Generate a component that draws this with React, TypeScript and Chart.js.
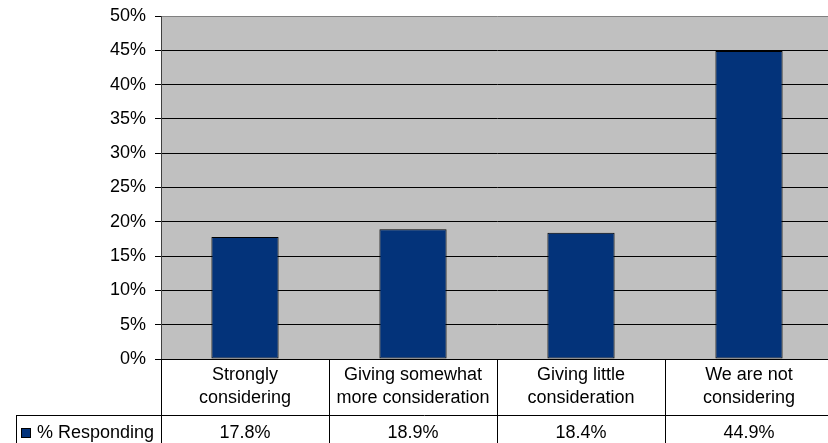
import React, { useEffect, useRef } from "react";
import { Chart, registerables } from "chart.js";

Chart.register(...registerables);

// Survey categories, split into the two lines shown in the data table
const categoryLines: string[][] = [
  ["Strongly", "considering"],
  ["Giving somewhat", "more consideration"],
  ["Giving little", "consideration"],
  ["We are not", "considering"],
];
const seriesName = "% Responding";
const responding: number[] = [17.8, 18.9, 18.4, 44.9];
const yTicks: number[] = [0, 5, 10, 15, 20, 25, 30, 35, 40, 45, 50];

const FONT = '"Liberation Sans", Arial, sans-serif';
const FONT_SIZE = 18;
const BAR_COLOR = "#03337A";
const PLOT_BG = "#C0C0C0";

// Plot background and the data table under the axis
const tablePlugin = {
  id: "dataTable",
  beforeDraw(chart: any) {
    const { ctx, chartArea } = chart;
    ctx.save();
    ctx.fillStyle = PLOT_BG;
    ctx.fillRect(chartArea.left, chartArea.top, chartArea.right - chartArea.left, chartArea.bottom - chartArea.top);
    ctx.restore();
  },
  afterDraw(chart: any) {
    const { ctx, chartArea } = chart;
    const x = chart.scales.x;
    const n = categoryLines.length;
    const colW = (chartArea.right - chartArea.left) / n;
    const top = Math.round(chartArea.bottom);
    const rowH = 56;
    const row2 = top + rowH;
    const row2H = 36;
    const legendLeft = 16;

    ctx.save();
    ctx.strokeStyle = "#000";
    ctx.lineWidth = 1;
    ctx.beginPath();
    // column separators through both rows
    for (let i = 0; i <= n; i++) {
      const cx = Math.round(chartArea.left + colW * i) + 0.5;
      ctx.moveTo(cx, top);
      ctx.lineTo(cx, row2 + row2H);
    }
    // legend cell edge
    ctx.moveTo(legendLeft + 0.5, row2);
    ctx.lineTo(legendLeft + 0.5, row2 + row2H);
    // row separator
    ctx.moveTo(legendLeft, row2 + 0.5);
    ctx.lineTo(chartArea.right, row2 + 0.5);
    ctx.stroke();

    ctx.fillStyle = "#000";
    ctx.font = `${FONT_SIZE}px ${FONT}`;
    ctx.textAlign = "center";
    ctx.textBaseline = "middle";
    const lineGap = 23;
    categoryLines.forEach((lines, i) => {
      const cx = x.getPixelForValue(i);
      const cy = top + rowH / 2;
      lines.forEach((t, j) => {
        ctx.fillText(t, cx, cy + (j - (lines.length - 1) / 2) * lineGap);
      });
      ctx.fillText(`${responding[i].toFixed(1)}%`, cx, row2 + 18);
    });

    // legend key
    ctx.fillStyle = BAR_COLOR;
    ctx.fillRect(21, row2 + 13, 10, 10);
    ctx.strokeRect(21.5, row2 + 13.5, 9, 9);
    ctx.fillStyle = "#000";
    ctx.textAlign = "left";
    ctx.fillText(seriesName, 37, row2 + 18);
    ctx.restore();
  },
};

export default function App() {
  const canvasRef = useRef<HTMLCanvasElement | null>(null);

  useEffect(() => {
    const canvas = canvasRef.current;
    if (!canvas) return;
    const chart = new Chart(canvas, {
      type: "bar",
      data: {
        labels: categoryLines.map((l) => l.join(" ")),
        datasets: [
          {
            label: seriesName,
            data: responding,
            backgroundColor: BAR_COLOR,
            borderColor: "#000",
            borderWidth: 1,
            borderSkipped: false,
            categoryPercentage: 1,
            barPercentage: 0.4,
          },
        ],
      },
      options: {
        responsive: false,
        animation: false,
        devicePixelRatio: 1,
        layout: { padding: { left: 0, top: 16, right: 7, bottom: 101 } },
        plugins: {
          legend: { display: false },
          tooltip: { enabled: false },
        },
        scales: {
          x: { display: false },
          y: {
            min: 0,
            max: 50,
            afterFit(scale: any) {
              scale.width = 161;
              scale.paddingTop = 0;
              scale.paddingBottom = 0;
            },
            afterBuildTicks(scale: any) {
              scale.ticks = yTicks.map((v) => ({ value: v }));
            },
            ticks: {
              padding: 9,
              color: "#000",
              font: { family: FONT, size: FONT_SIZE },
              callback: (v: any) => `${v}%`,
            },
            grid: {
              color: (c: any) => (c.tick && c.tick.value === 50 ? "#808080" : "#000"),
              tickColor: "#000",
              tickLength: 6,
              lineWidth: 1,
            },
            border: { display: true, color: "#404040", width: 1 },
          },
        },
      },
      plugins: [tablePlugin],
    });
    return () => chart.destroy();
  }, []);

  return (
    <div
      style={{
        position: "fixed",
        left: 0,
        top: 0,
        width: 828,
        height: 443,
        overflow: "hidden",
        background: "#fff",
      }}
    >
      <canvas ref={canvasRef} width={840} height={460} style={{ display: "block" }} />
    </div>
  );
}
